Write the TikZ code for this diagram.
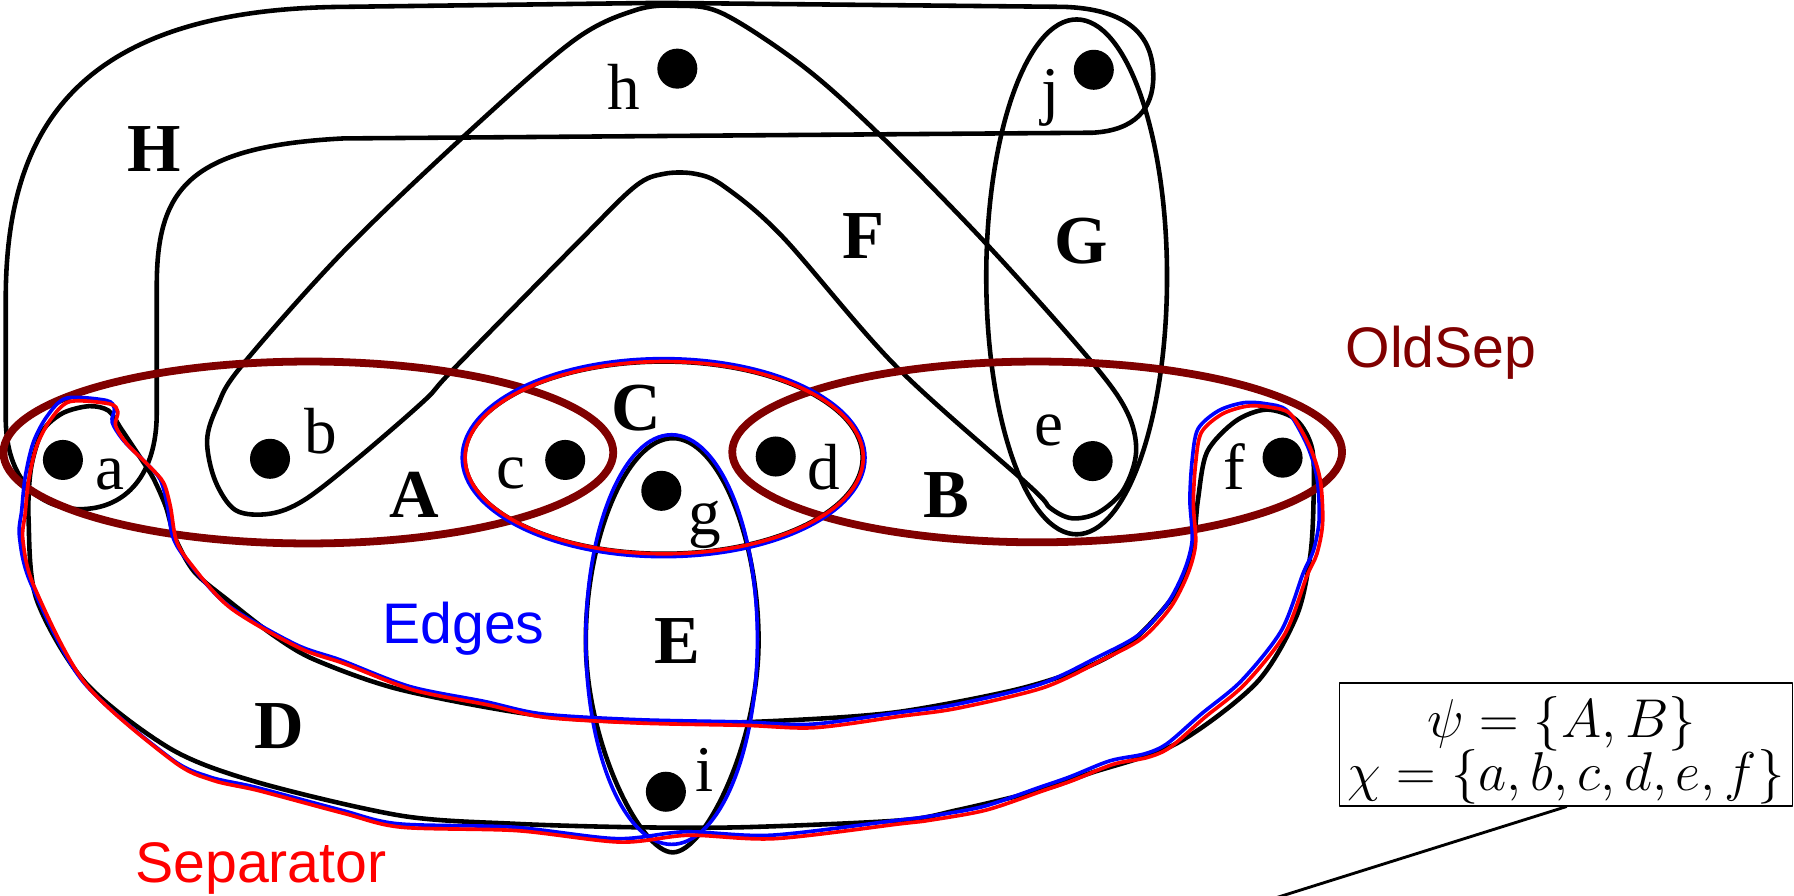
\RequirePackage{fix-cm}
\documentclass[tikz,border=0pt]{standalone}
\usepackage[no-math]{fontspec}
\newfontfamily\lblfont{Liberation Serif}
\newfontfamily\tagfont{Liberation Sans}
\definecolor{oldsep}{RGB}{128,0,0}

\begin{document}
\begin{tikzpicture}[x=1pt,y=-1pt,line join=round,line cap=round,
  hedge/.style={line width=4pt,black},
  oldsepline/.style={line width=6.8pt,oldsep},
  sepline/.style={line width=3.2pt,red},
  edgesline/.style={line width=3.2pt,blue},
  vertex/.style={circle,fill=black,inner sep=0pt,minimum size=35pt},
  vlabel/.style={font=\lblfont\fontsize{57}{57}\selectfont,inner sep=0pt,anchor=base},
  elabel/.style={font=\lblfont\bfseries\fontsize{60}{60}\selectfont,inner sep=0pt,anchor=base},
  tag/.style={font=\tagfont\fontsize{50}{50}\selectfont,inner sep=0pt,anchor=base west},
  mathtxt/.style={font=\fontsize{47.8}{46}\selectfont,inner sep=0pt,anchor=base}]

\useasboundingbox (0,0) rectangle (1568,783);

% hyperedge H = {a, h, j}
\draw[hedge] (137,361) -- (137,250) .. controls (137,165) and (165,128) .. (300,121)
  -- (955,116) .. controls (992,114) and (1008,95) .. (1008,67)
  .. controls (1008,30) and (985,8) .. (930,6) -- (577,2.5) -- (300,6)
  .. controls (60,8) and (5,120) .. (5,262) -- (5,365)
  .. controls (5,420) and (35,445) .. (70,445)
  .. controls (110,445) and (137,415) .. (137,361) -- cycle;

% hyperedge F = {b, h, e}
\draw[hedge] plot[smooth cycle,tension=0.55] coordinates {
  (371,350) (311,402) (266,437) (236,449) (206,446) (188,420) (181,385) (190,355)
  (211,320) (301,219) (411,114) (502,35) (555,9) (592,5) (632,12) (702,58)
  (768,117) (862,213) (953,315) (985,360) (993,395) (982,428) (960,448) (937,453)
  (918,444) (900,425) (783,320) (684,207) (633,163) (608,152) (580,152) (555,163)
  (507,210) (396,323)};

% hyperedge G = {j, e}
\draw[hedge] (941,242) ellipse [x radius=79,y radius=225];

% hyperedge D = {a, f, i}
\draw[hedge] plot[smooth cycle,tension=0.5] coordinates {
  (25,455) (27,410) (37,377) (55,361) (78,355) (95,359) (106,375) (122,399)
  (134,418) (145,443) (153,470) (170,500) (201,526) (240,556) (276,577) (351,603)
  (476,626) (600,632) (700,629) (787,622) (887,603) (950,583) (990,560) (1027,519)
  (1042,481) (1047,437) (1055,395) (1080,368) (1107,358) (1133,367) (1147,393)
  (1148,440) (1145,487) (1133,539) (1098,597) (1028,650) (952,676) (912,690)
  (837,708) (787,717) (650,723) (552,723) (450,720) (351,713) (226,684) (150,655)
  (75,597) (32,524)};

% hyperedges C = {c, d, g} and E = {g, i}
\draw[hedge] (580,400) ellipse [x radius=174,y radius=84];
\draw[hedge] (588,383) .. controls (548,383) and (512,470) .. (512,560)
  .. controls (512,650) and (560,745) .. (588,745)
  .. controls (616,745) and (663,650) .. (663,560)
  .. controls (663,470) and (628,383) .. (588,383) -- cycle;

% vertices
\node[vertex] (h) at (592,60) {};
\node[vertex] (j) at (956,61) {};
\node[vertex] (a) at (55,402) {};
\node[vertex] (b) at (236,401) {};
\node[vertex] (c) at (494,402) {};
\node[vertex] (g) at (578,429) {};
\node[vertex] (d) at (678,399) {};
\node[vertex] (e) at (955,403) {};
\node[vertex] (f) at (1121,400) {};
\node[vertex] (i) at (582,692) {};

% old separator: edges A and B
\draw[oldsepline] (269.5,395.5) ellipse [x radius=266.5,y radius=79.5];
\draw[oldsepline] (906.5,395) ellipse [x radius=266.5,y radius=79];

% edges of the new separator (blue)
\draw[edgesline] (580,400) ellipse [x radius=176,y radius=86.5];
\draw[edgesline] (587,559) ellipse [x radius=75,y radius=179];
\draw[edgesline,xshift=-3pt,yshift=3pt] plot[smooth cycle,tension=0.5] coordinates {
  (61,351) (96,353) (103,360) (101,372) (111,388) (131,408) (143,422) (149,443)
  (154,472) (166,492) (201,531) (261,566) (301,580) (361,603) (426,616) (477,627)
  (560,632) (652,634) (712,636) (787,626) (837,619) (912,601) (963,577) (998,558)
  (1023,531) (1038,502) (1045,475) (1043,440) (1045,405) (1050,378) (1068,362)
  (1090,355) (1110,356) (1128,362) (1145,391) (1154,420) (1156,457) (1151,484)
  (1142,504) (1123,554) (1088,598) (1053,627) (1023,653) (1003,662) (973,668)
  (938,682) (912,691) (862,708) (812,717) (787,720) (677,733) (602,730) (542,736)
  (452,726) (351,723) (301,711) (226,691) (186,682) (151,665) (75,598) (30,513)
  (20,472) (22,449) (25,420) (32,390) (44,367)};

% separator (red)
\draw[sepline] (580.5,400) ellipse [x radius=174,y radius=84];
\draw[sepline] plot[smooth cycle,tension=0.5] coordinates {
  (61,351) (96,353) (103,360) (101,372) (111,388) (131,408) (143,422) (149,443)
  (154,472) (166,492) (201,531) (261,566) (301,580) (361,603) (426,616) (477,627)
  (560,632) (652,634) (712,636) (787,626) (837,619) (912,601) (963,577) (998,558)
  (1023,531) (1038,502) (1045,475) (1043,440) (1045,405) (1050,378) (1068,362)
  (1090,355) (1110,356) (1128,362) (1145,391) (1154,420) (1156,457) (1151,484)
  (1142,504) (1123,554) (1088,598) (1053,627) (1023,653) (1003,662) (973,668)
  (938,682) (912,691) (862,708) (812,717) (787,720) (677,733) (602,730) (542,736)
  (452,726) (351,723) (301,711) (226,691) (186,682) (151,665) (75,598) (30,513)
  (20,472) (22,449) (25,420) (32,390) (44,367)};

% vertex labels
\node[vlabel] (lh) at (545,96) {h};
\node[vlabel] (lj) at (918,98) {j};
\node[vlabel] (la) at (96,428) {a};
\node[vlabel] (lb) at (280,396) {b};
\node[vlabel] (lc) at (447,427) {c};
\node[vlabel] (ld) at (720,428) {d};
\node[vlabel] (lg) at (616,467) {g};
\node[vlabel] (le) at (917,389) {e};
\node[vlabel] (lf) at (1079,428) {f};
\node[vlabel] (li) at (616,692) {i};

% hyperedge labels
\node[elabel] (lH) at (134.5,150) {H};
\node[elabel] (lF) at (755,226) {F};
\node[elabel] (lG) at (945,230) {G};
\node[elabel] (lC) at (556,376) {C};
\node[elabel] (lA) at (362,452) {A};
\node[elabel] (lB) at (827,452) {B};
\node[elabel] (lE) at (592,580) {E};
\node[elabel] (lD) at (244,654) {D};

% legend tags
\node[tag,text=oldsep] (tOld) at (1176,321) {OldSep};
\node[tag,text=blue] (tEdges) at (334,562) {Edges};
\node[tag,text=red] (tSep) at (118,771) {Separator};

% tree-decomposition bag
\node[draw,line width=1pt,minimum width=396pt,minimum height=107.5pt,inner sep=0pt] (box) at (1369,650.75) {};
\node[mathtxt] (psi) at (1365,645) {$\psi = \{A, B\}$};
\node[mathtxt] (chi) at (1369,690.5) {$\chi = \{a, b, c, d, e, f\}$};
\coordinate (tail) at (1111,786);
\draw[line width=2.5pt] (box.south) -- (tail);
\end{tikzpicture}
\end{document}
